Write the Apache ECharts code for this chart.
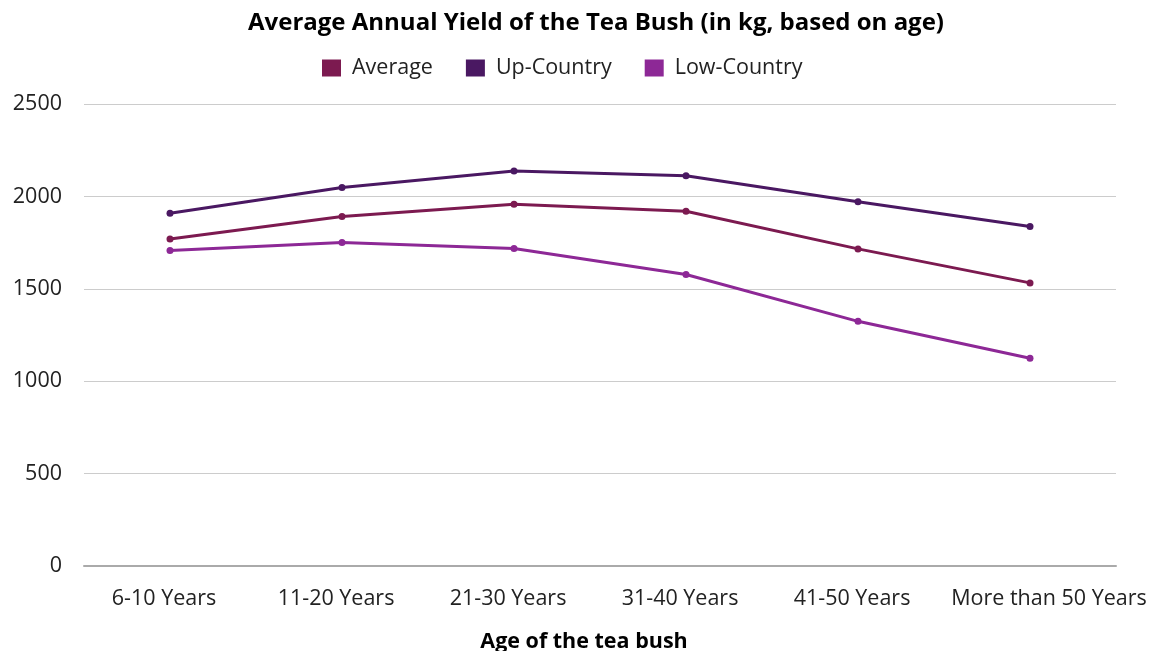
<!DOCTYPE html>
<html>
<head>
<meta charset="utf-8">
<script src="https://cdn.jsdelivr.net/npm/echarts@6/dist/echarts.min.js"></script>
<style>
  html, body { margin: 0; padding: 0; background: #fff; }
  #chart { width: 1150px; height: 651px; }
</style>
</head>
<body>
<div id="chart"></div>
<script>
// Age groups of the tea bush
const ageGroups = ['6-10 Years', '11-20 Years', '21-30 Years', '31-40 Years', '41-50 Years', 'More than 50 Years'];

// Average annual yield per bush group (kg)
const averageYield = [1770, 1891, 1958, 1920, 1716, 1532];
const upCountryYield = [1909, 2048, 2137, 2112, 1971, 1837];
const lowCountryYield = [1707, 1750, 1718, 1577, 1324, 1124];

const seriesNames = ['Average', 'Up-Country', 'Low-Country'];
const seriesColors = ['#7c1a50', '#4a1862', '#8d2896'];
const seriesData = [averageYield, upCountryYield, lowCountryYield];

const FONT = '"Open Sans", "Noto Sans", sans-serif';
const LABEL_SIZE = 21.5;

const chart = echarts.init(document.getElementById('chart'), null, { renderer: 'canvas' });

chart.setOption({
  animation: false,
  color: seriesColors,
  textStyle: { fontFamily: FONT },
  title: {
    text: 'Average Annual Yield of the Tea Bush (in kg, based on age)',
    left: 591,
    textAlign: 'center',
    top: 6,
    textStyle: { fontFamily: FONT, fontSize: 24, fontWeight: 'bold', color: '#000' }
  },
  legend: {
    data: seriesNames,
    left: 317,
    top: 52,
    icon: 'rect',
    itemWidth: 19,
    itemHeight: 17,
    itemGap: 33,
    textStyle: { fontFamily: FONT, fontSize: LABEL_SIZE, color: '#222', padding: [0, 0, 0, 6] }
  },
  grid: { left: 84, right: 34, top: 104, bottom: 85, containLabel: false, outerBoundsMode: 'none' },
  xAxis: {
    type: 'category',
    data: ageGroups,
    boundaryGap: true,
    name: 'Age of the tea bush',
    nameLocation: 'middle',
    nameGap: 65,
    nameTextStyle: { fontFamily: FONT, fontSize: LABEL_SIZE, fontWeight: 'bold', color: '#000', padding: [0, 32, 0, 0] },
    axisLine: { lineStyle: { color: '#aaaaaa', width: 2 } },
    axisTick: { show: false },
    axisLabel: {
      fontFamily: FONT, fontSize: LABEL_SIZE, color: '#222', margin: 22, interval: 0,
      // the last, longest label sits nudged toward the right edge
      formatter: (v, i) => (i === ageGroups.length - 1 ? '{last|' + v + '}' : '{std|' + v + '}'),
      rich: {
        std: { fontFamily: FONT, fontSize: LABEL_SIZE, color: '#222', padding: [0, 12, 0, 0] },
        last: { fontFamily: FONT, fontSize: LABEL_SIZE, color: '#222', padding: [0, 0, 0, 38] }
      }
    }
  },
  yAxis: {
    type: 'value',
    min: 0,
    max: 2500,
    interval: 500,
    axisLine: { show: false },
    axisTick: { show: false },
    axisLabel: { fontFamily: FONT, fontSize: LABEL_SIZE, color: '#222', margin: 22, formatter: (v) => String(v) },
    splitLine: { lineStyle: { color: '#cccccc', width: 1 } }
  },
  series: seriesNames.map((name, i) => ({
    name: name,
    type: 'line',
    data: seriesData[i],
    symbol: 'circle',
    symbolSize: 7,
    lineStyle: { width: 3, color: seriesColors[i] },
    itemStyle: { color: seriesColors[i] }
  }))
});
</script>
</body>
</html>
